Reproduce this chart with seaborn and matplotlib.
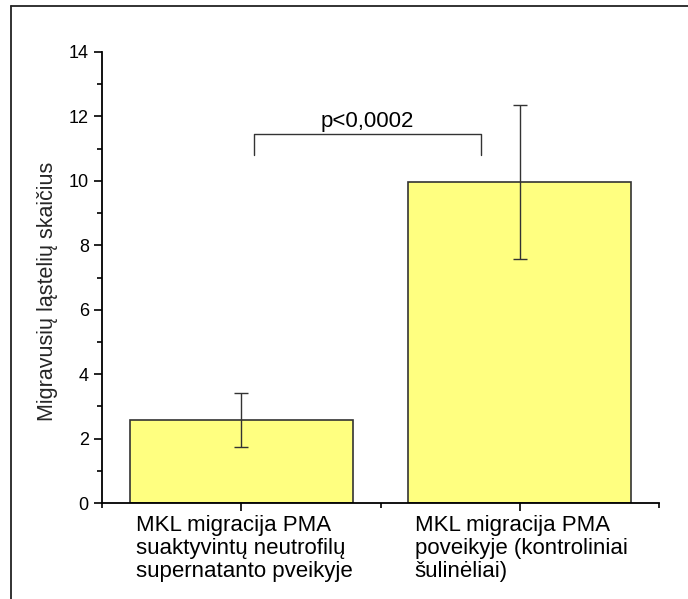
import matplotlib
matplotlib.use("Agg")
import matplotlib.pyplot as plt
from matplotlib.lines import Line2D
from matplotlib.ticker import MultipleLocator, FixedLocator
import matplotlib.transforms as mtransforms
import seaborn as sns
import pandas as pd
import numpy as np

categories = ["MKL migracija PMA\nsuaktyvintų neutrofilų\nsupernatanto pveikyje",
              "MKL migracija PMA\npoveikyje (kontroliniai\nšulinėliai)"]
values = [2.57, 9.97]
errors = [0.84, 2.40]
y_ticks = [0, 2, 4, 6, 8, 10, 12, 14]
p_text = "p<0,0002"

sns.set_theme(style="white")
plt.rcParams['font.family'] = ['Liberation Sans', 'DejaVu Sans']

fig = plt.figure(figsize=(6.88, 5.99), dpi=100)
ax = fig.add_axes([102/688, 1-503/599, (659-102)/688, (503-52)/599])

df = pd.DataFrame({"cat": categories, "val": values})
sns.barplot(data=df, x="cat", y="val", ax=ax, color="#FFFF80", edgecolor="#333333",
            linewidth=1.2, width=0.8, saturation=1, errorbar=None)
ax.errorbar(x=np.arange(len(values)), y=values, yerr=errors, fmt="none",
            ecolor="#333333", elinewidth=1.0, capsize=5, capthick=1.0)

ax.set_xlim(-0.5, 1.5)
ax.set_ylim(0, 14)
ax.set_yticks(y_ticks)
ax.yaxis.set_minor_locator(MultipleLocator(1))
ax.xaxis.set_minor_locator(FixedLocator([-0.5, 0.5, 1.5]))
ax.set_xlabel("")
ax.set_ylabel("Migravusių ląstelių skaičius", fontsize=15.5)
ax.yaxis.set_label_coords(-0.079, 0.47)
for s in ["top", "right"]:
    ax.spines[s].set_visible(False)
for s in ["left", "bottom"]:
    ax.spines[s].set_color("black")
    ax.spines[s].set_linewidth(1.3)
ax.tick_params(axis="both", which="major", direction="out", length=6, width=1.2,
               colors="black", labelsize=13, bottom=True, left=True)
ax.tick_params(axis="both", which="minor", direction="out", length=3.5, width=1.2,
               colors="black", bottom=True, left=True)
ax.tick_params(axis="x", which="major", pad=3)
for lbl in ax.get_xticklabels():
    lbl.set_horizontalalignment("left")
    lbl.set_fontsize(16)
    lbl.set_linespacing(1.1)
    lbl.set_transform(lbl.get_transform() + mtransforms.ScaledTranslation(-105/100, 0, fig.dpi_scale_trans))

# significance bracket
bx0, bx1, by, bh = 0.047, 0.86, 11.46, 0.66
ax.plot([bx0, bx0, bx1, bx1], [by-bh, by, by, by-bh], color="#333333", lw=1.0, clip_on=False)
ax.text((bx0+bx1)/2, by+0.05, p_text, ha="center", va="bottom", fontsize=16, color="black")

# outer frame
fig.add_artist(Line2D([11/688, 11/688], [0, 1-6/599], transform=fig.transFigure, color="#222222", lw=1.3))
fig.add_artist(Line2D([11/688, 1], [1-6/599, 1-6/599], transform=fig.transFigure, color="#222222", lw=1.3))

fig.savefig("out.png", dpi=100, facecolor="white")
